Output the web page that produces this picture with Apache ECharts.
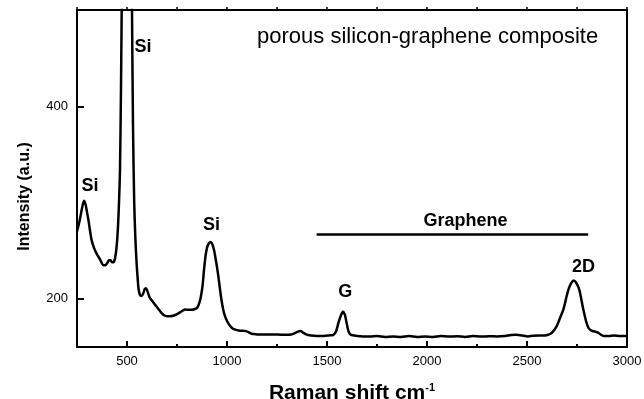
<!DOCTYPE html>
<html>
<head>
<meta charset="utf-8">
<script src="https://cdn.jsdelivr.net/npm/echarts@6/dist/echarts.min.js"></script>
<style>
html,body{margin:0;padding:0;background:#fff;}
#chart{width:644px;height:399px;}
</style>
</head>
<body>
<div id="chart"></div>
<script>
// Raman shift (cm-1) and intensity (a.u.)
var ramanShift = [250,262,275,285,293,300,307,315,323,335,348,365,382,393,402,410,418,425,432,440,448,455,460,465,470,475,485,497,510,520,525,530,536,542,548,553,558,565,572,580,588,595,602,612,625,640,655,670,685,700,715,730,748,765,780,790,805,823,840,852,862,870,878,885,893,900,910,918,926,935,942,950,957,965,973,982,990,1000,1015,1030,1050,1065,1080,1095,1107,1120,1132,1150,1200,1250,1298,1320,1340,1355,1368,1380,1398,1420,1450,1482,1510,1532,1545,1557,1570,1580,1590,1598,1608,1620,1650,1680,1715,1750,1790,1830,1870,1910,1950,1990,2030,2070,2110,2150,2190,2230,2270,2310,2350,2390,2420,2448,2475,2505,2530,2560,2590,2607,2625,2648,2665,2682,2695,2707,2720,2735,2748,2762,2772,2782,2795,2807,2822,2840,2855,2868,2882,2910,2935,2965,3000];
var intensity = [270,280,294,302,298,290,282,271,261,253,247,241,235,235,237.5,240,240,238,238,242,254,275,300,334,420,540,850,1100,900,640,500,380,300,262,237,222,210,204,203,205,210,211,208,202,198,194,190,186,183,182,182,182.5,184,186,188,189,188.6,188.6,189.5,191,196,203,214,230,245,253,258,259,257,251,243,233,223,210,198,188,182,177,172,169,167.5,167,167,166.5,165.5,164,163.5,163,163,163,162.6,163,164.5,166,166.5,165,162.8,162,161.5,161.5,162,162.6,166,175,183,186.5,183,175,166,162.5,161.5,161,161,161.5,160.5,161,160.5,161.5,160.5,161,160.5,161.5,160.8,161.2,160.5,161.5,160.8,161.2,161,161.5,162.5,162.8,162,161,161.8,162,162,162.8,165,171.5,180,189,200,209.5,216,219,216,209,199,188.6,177,170,167,166,165,163,161.5,161.5,162,161.5,161.5];

// Tick values
var xMajorTicks = [500,1000,1500,2000,2500,3000];
var xMinorTicks = [750,1250,1750,2250,2750];
var yMajorTicks = [200,400];

// Peak annotations (data coordinates)
var annotText = ['Si','Si','Si','G','2D','Graphene'];
var annotX = [315,580,923,1591,2782,2192];
var annotY = [317,462,277,207.6,233,281.3];

// Graphene bracket line (data coordinates)
var grapheneLineX = [1448,2806];
var grapheneLineY = 267.3;

var titleText = 'porous silicon-graphene composite';

var FONT = '"Liberation Sans", Arial, Helvetica, sans-serif';

var spectrum = ramanShift.map(function (x, i) { return [x, intensity[i]]; });
var annotData = annotText.map(function (t, i) { return { value: [annotX[i], annotY[i]], name: t }; });
var plain = function (v) { return String(v); };

var chart = echarts.init(document.getElementById('chart'), null, { renderer: 'canvas' });

var option = {
  backgroundColor: '#ffffff',
  animation: false,
  title: {
    text: titleText,
    left: 257,
    top: 26,
    padding: 0,
    textStyle: { fontFamily: FONT, fontSize: 22, fontWeight: 'normal', color: '#000' }
  },
  grid: { left: 77, top: 10, right: 17, bottom: 52, containLabel: false, outerBoundsMode: 'none' },
  xAxis: [
    {
      type: 'value', position: 'bottom', min: 250, max: 3000,
      axisLine: { show: true, lineStyle: { color: '#000', width: 2 } },
      axisTick: { show: true, inside: true, length: 6, customValues: xMajorTicks, lineStyle: { color: '#000', width: 2 } },
      axisLabel: { show: true, customValues: xMajorTicks, formatter: plain, margin: 8, color: '#000', fontFamily: FONT, fontSize: 13 },
      splitLine: { show: false },
      name: '{a|Raman shift cm}{b|-1}',
      nameLocation: 'middle',
      nameGap: 35,
      nameTextStyle: {
        rich: {
          a: { fontFamily: FONT, fontSize: 21, fontWeight: 'bold', color: '#000', lineHeight: 22 },
          b: { fontFamily: FONT, fontSize: 11, fontWeight: 'bold', color: '#000', verticalAlign: 'top', lineHeight: 11 }
        }
      }
    },
    {
      type: 'value', position: 'bottom', min: 250, max: 3000,
      axisLine: { show: false },
      axisTick: { show: true, inside: true, length: 3, customValues: xMinorTicks, lineStyle: { color: '#000', width: 2 } },
      axisLabel: { show: false },
      splitLine: { show: false }
    },
    {
      type: 'value', position: 'top', min: 250, max: 3000, interval: 250,
      axisLine: { show: true, lineStyle: { color: '#000', width: 2 } },
      axisTick: { show: true, inside: false, length: 3, lineStyle: { color: '#000', width: 1.5 } },
      axisLabel: { show: false },
      splitLine: { show: false }
    }
  ],
  yAxis: [
    {
      type: 'value', position: 'left', min: 150, max: 500,
      axisLine: { show: true, lineStyle: { color: '#000', width: 2 } },
      axisTick: { show: true, inside: true, length: 7, customValues: yMajorTicks, lineStyle: { color: '#000', width: 2 } },
      axisLabel: { show: true, customValues: yMajorTicks, formatter: plain, margin: 9, color: '#000', fontFamily: FONT, fontSize: 13 },
      splitLine: { show: false },
      name: 'Intensity (a.u.)',
      nameLocation: 'middle',
      nameGap: 44,
      nameTextStyle: { fontFamily: FONT, fontSize: 16, fontWeight: 'bold', color: '#000', padding: [0, 36, 0, 0] }
    },
    {
      type: 'value', position: 'right', min: 150, max: 500,
      axisLine: { show: true, lineStyle: { color: '#000', width: 2 } },
      axisTick: { show: false },
      axisLabel: { show: false },
      splitLine: { show: false }
    }
  ],
  series: [
    {
      type: 'line',
      xAxisIndex: 0, yAxisIndex: 0,
      data: spectrum,
      showSymbol: false,
      symbol: 'none',
      smooth: 0.25,
      clip: true,
      lineStyle: { color: '#000', width: 2.5 },
      markLine: {
        silent: true,
        symbol: ['none', 'none'],
        label: { show: false },
        lineStyle: { color: '#000', width: 2.5, type: 'solid' },
        data: [[{ coord: [grapheneLineX[0], grapheneLineY] }, { coord: [grapheneLineX[1], grapheneLineY] }]]
      },
      z: 3
    },
    {
      type: 'scatter',
      xAxisIndex: 0, yAxisIndex: 0,
      data: annotData,
      symbol: 'circle',
      symbolSize: 0,
      itemStyle: { color: '#000', opacity: 1 },
      silent: true,
      clip: false,
      label: {
        show: true,
        position: 'inside',
        formatter: function (p) { return p.name; },
        fontFamily: FONT, fontSize: 18, fontWeight: 'bold', color: '#000', opacity: 1,
        textBorderWidth: 0
      },
      labelLayout: { hideOverlap: false },
      z: 5
    }
  ]
};

chart.setOption(option);
</script>
</body>
</html>
